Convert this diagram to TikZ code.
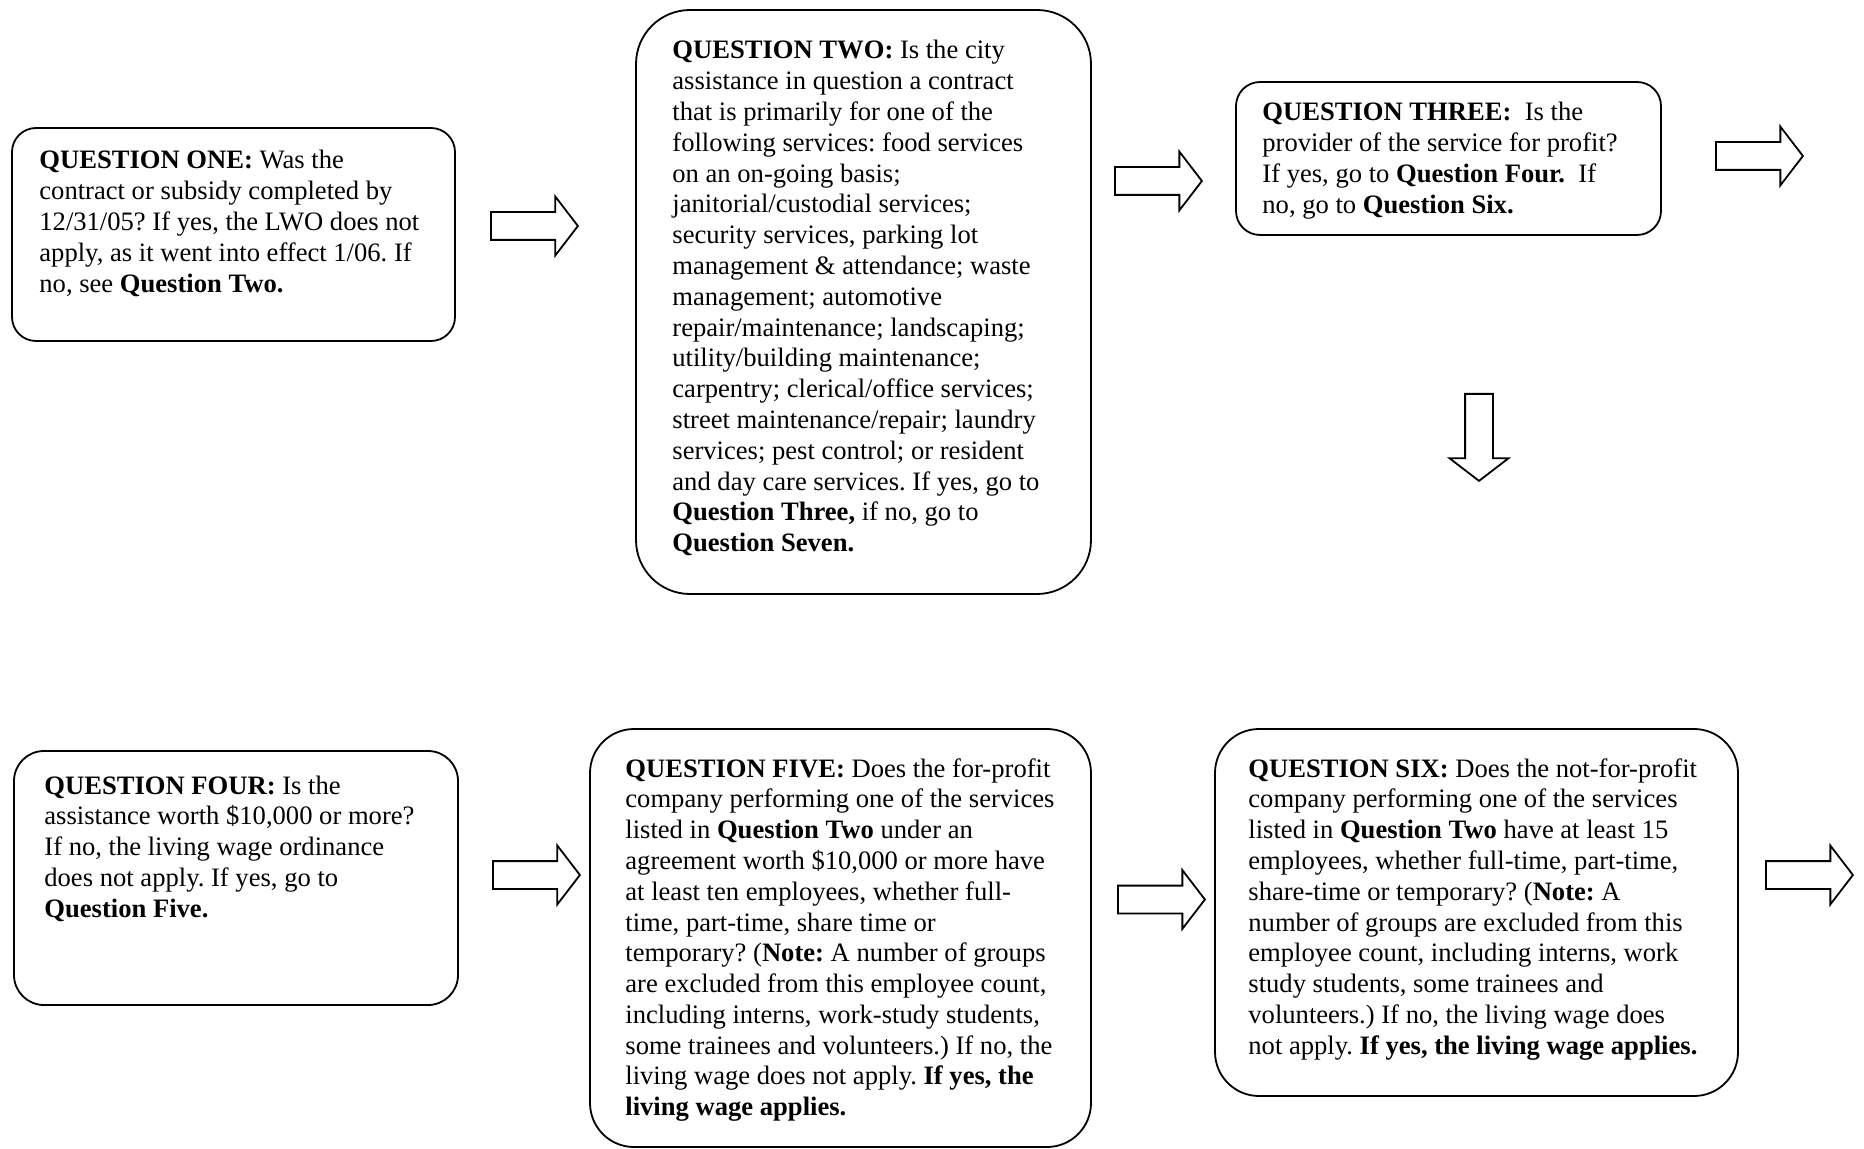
\documentclass[tikz,border=0pt]{standalone}
\usepackage{fontspec}
\setmainfont{Liberation Serif}
\usetikzlibrary{shapes.arrows}
\frenchspacing

\newcommand\qfont{\fontsize{13.3}{15.4}\selectfont}
\newcommand\qlines[1]{\begin{tabular}[t]{@{}l@{}}#1\end{tabular}}

\tikzset{
  qbox/.style={draw, rectangle, line width=0.9pt},
  qtext/.style={anchor=base west, inner sep=0pt, font=\qfont},
  blockarrow/.style={draw, single arrow, line width=0.9pt, inner sep=0pt,
    text height=6.5pt, text depth=6.5pt, minimum height=43.5pt,
    single arrow head extend=7.75pt, single arrow tip angle=105, anchor=tail}
}

\begin{document}
\begin{tikzpicture}[x=0.5pt, y=-0.5pt]
    \useasboundingbox (0,0) rectangle (1864,1149);

    % Boxes
    \node [qbox, minimum width=221.5pt, minimum height=106.5pt, rounded corners=12pt] (q1) at (233.5,234.5) {};
    \node [qbox, minimum width=227.5pt, minimum height=292pt, rounded corners=27pt] (q2) at (863.5,302) {};
    \node [qbox, minimum width=212.5pt, minimum height=76.5pt, rounded corners=12pt] (q3) at (1448.5,158.5) {};
    \node [qbox, minimum width=222pt, minimum height=127pt, rounded corners=15pt] (q4) at (236,878) {};
    \node [qbox, minimum width=250.5pt, minimum height=209pt, rounded corners=22pt] (q5) at (840.5,938) {};
    \node [qbox, minimum width=261.5pt, minimum height=183.5pt, rounded corners=22pt] (q6) at (1476.5,912.5) {};

    % Texts
    \node [qtext] (q1text) at (39,169) {\qlines{%
        \textbf{QUESTION ONE:} Was the\\
        contract or subsidy completed by\\
        12/31/05? If yes, the LWO does not\\
        apply, as it went into effect 1/06. If\\
        no, see \textbf{Question Two.}}};
    \node [qtext] (q2text) at (672,59) {\qlines{%
        \textbf{QUESTION TWO:} Is the city\\
        assistance in question a contract\\
        that is primarily for one of the\\
        following services: food services\\
        on an on-going basis;\\
        janitorial/custodial services;\\
        security services, parking lot\\
        management \& attendance; waste\\
        management; automotive\\
        repair/maintenance; landscaping;\\
        utility/building maintenance;\\
        carpentry; clerical/office services;\\
        street maintenance/repair; laundry\\
        services; pest control; or resident\\
        and day care services. If yes, go to\\
        \textbf{Question Three,} if no, go to\\
        \textbf{Question Seven.}}};
    \node [qtext] (q3text) at (1262,121) {\qlines{%
        \textbf{QUESTION THREE:}\ \ Is the\\
        provider of the service for profit?\\
        If yes, go to \textbf{Question Four.}\ \ If\\
        no, go to \textbf{Question Six.}}};
    \node [qtext] (q4text) at (44,794) {\qlines{%
        \textbf{QUESTION FOUR:} Is the\\
        assistance worth \$10,000 or more?\\
        If no, the living wage ordinance\\
        does not apply. If yes, go to\\
        \textbf{Question Five.}}};
    \node [qtext] (q5text) at (625,777) {\qlines{%
        \textbf{QUESTION FIVE:} Does the for-profit\\
        company performing one of the services\\
        listed in \textbf{Question Two} under an\\
        agreement worth \$10,000 or more have\\
        at least ten employees, whether full-\\
        time, part-time, share time or\\
        temporary? (\textbf{Note:} A number of groups\\
        are excluded from this employee count,\\
        including interns, work-study students,\\
        some trainees and volunteers.) If no, the\\
        living wage does not apply. \textbf{If yes, the}\\
        \textbf{living wage applies.}}};
    \node [qtext] (q6text) at (1248,777) {\qlines{%
        \textbf{QUESTION SIX:} Does the not-for-profit\\
        company performing one of the services\\
        listed in \textbf{Question Two} have at least 15\\
        employees, whether full-time, part-time,\\
        share-time or temporary? (\textbf{Note:} A\\
        number of groups are excluded from this\\
        employee count, including interns, work\\
        study students, some trainees and\\
        volunteers.) If no, the living wage does\\
        not apply. \textbf{If yes, the living wage applies.}}};

    % Arrows
    \node [blockarrow] (a12) at (490,226) {};
    \node [blockarrow] (a23) at (1114,181) {};
    \node [blockarrow] (a3out) at (1715,156) {};
    \node [blockarrow, rotate=-90] (a34) at (1479,393) {};
    \node [blockarrow] (a45) at (492,875) {};
    \node [blockarrow] (a56) at (1117,899.5) {};
    \node [blockarrow] (a6out) at (1765,875) {};
\end{tikzpicture}
\end{document}
